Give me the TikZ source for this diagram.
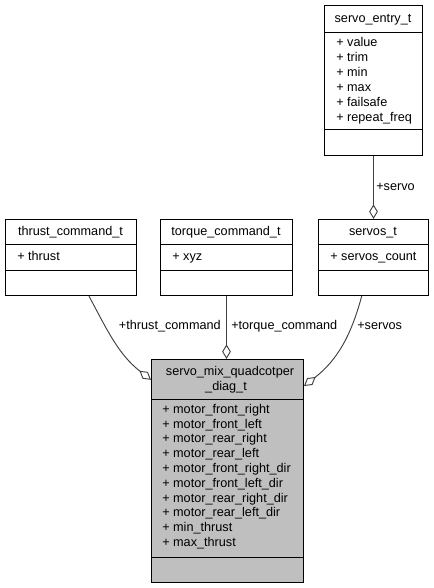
\documentclass[tikz,border=0pt]{standalone}
\usepackage{fontspec}
\setmainfont{Liberation Sans}
\usepackage{tikz}
\usetikzlibrary{arrows.meta}
\usetikzlibrary{calc}

\newcommand{\classfont}{\fontsize{9.5}{11.1}\selectfont}

\begin{document}
\begin{tikzpicture}[x=0.75pt, y=-0.75pt,
    classbox/.style={draw=black, line width=0.75pt, fill=white, anchor=north west, inner sep=0},
    title/.style={font=\classfont, inner sep=0, text height=7pt, text depth=2pt},
    attr/.style={font=\classfont, anchor=west, inner sep=0, text height=7pt, text depth=2pt},
    member/.style={draw=black!75, line width=0.7pt, -{Diamond[open, length=11pt, width=6.5pt, fill=white]}},
    role/.style={font=\classfont, inner sep=0, text height=7pt, text depth=2pt}]
        \useasboundingbox (0,0) rectangle (434,588);

        % class boxes
        \node (entry) [classbox, minimum width=73.5pt, minimum height=112.5pt] at (324, 5) {};
        \node (servos) [classbox, minimum width=82.5pt, minimum height=57pt] at (318, 219) {};
        \node (torque) [classbox, minimum width=99pt, minimum height=57pt] at (160, 219) {};
        \node (thrust) [classbox, minimum width=98.25pt, minimum height=57pt] at (5, 219) {};
        \node (main) [classbox, fill=black!25, minimum width=114pt, minimum height=167.25pt] at (151, 359) {};

        \draw[line width=0.75pt] (entry.north west) ++(0,28) -- ++(98,0);
        \draw[line width=0.75pt] (entry.north west) ++(0,125) -- ++(98,0);
        \foreach \cls/\w in {servos/110, torque/132, thrust/131} {
          \draw[line width=0.75pt] (\cls.north west) ++(0,25) -- ++(\w,0);
          \draw[line width=0.75pt] (\cls.north west) ++(0,51) -- ++(\w,0);
        }
        \draw[line width=0.75pt] (main.north west) ++(0,40) -- ++(152,0);
        \draw[line width=0.75pt] (main.north west) ++(0,198) -- ++(152,0);

        % titles
        \node (entry-t) [title] at (373, 19) {servo\_entry\_t};
        \node (servos-t) [title] at (373, 232) {servos\_t};
        \node (torque-t) [title] at (226, 232) {torque\_command\_t};
        \node (thrust-t) [title] at (70.5, 232) {thrust\_command\_t};
        \node (main-t1) [title] at (230, 372) {servo\_mix\_quadcotper};
        \node (main-t2) [title] at (226, 387) {\_diag\_t};

        % attributes
        \foreach \name [count=\i from 0] in {value, trim, min, max, failsafe, repeat\_freq}
          \node (entry-a\i) [attr] at (336, 43+15*\i) {+ \name};
        \node (servos-a0) [attr] at (330, 257) {+ servos\_count};
        \node (torque-a0) [attr] at (172, 257) {+ xyz};
        \node (thrust-a0) [attr] at (17, 257) {+ thrust};
        \foreach \name [count=\i from 0] in {motor\_front\_right, motor\_front\_left,
            motor\_rear\_right, motor\_rear\_left, motor\_front\_right\_dir,
            motor\_front\_left\_dir, motor\_rear\_right\_dir, motor\_rear\_left\_dir,
            min\_thrust, max\_thrust}
          \node (main-a\i) [attr] at (162, 410+14.78*\i) {+ \name};

        % members
        \draw[member] (entry.south) -- (servos.north);
        \draw[member] (torque.south) -- (torque.south |- main.north);
        \draw[member] (thrust.-65) to[out=-62, in=142] (main.130);
        \draw[member] (servos.-107) to[out=-105, in=38] (main.48);

        \node (r-servo) [role, anchor=west] at (376, 187) {+servo};
        \node (r-torque) [role, anchor=west] at (231, 326) {+torque\_command};
        \node (r-thrust) [role, anchor=east] at (221, 326) {+thrust\_command};
        \node (r-servos) [role, anchor=west] at (357, 326) {+servos};
\end{tikzpicture}
\end{document}
